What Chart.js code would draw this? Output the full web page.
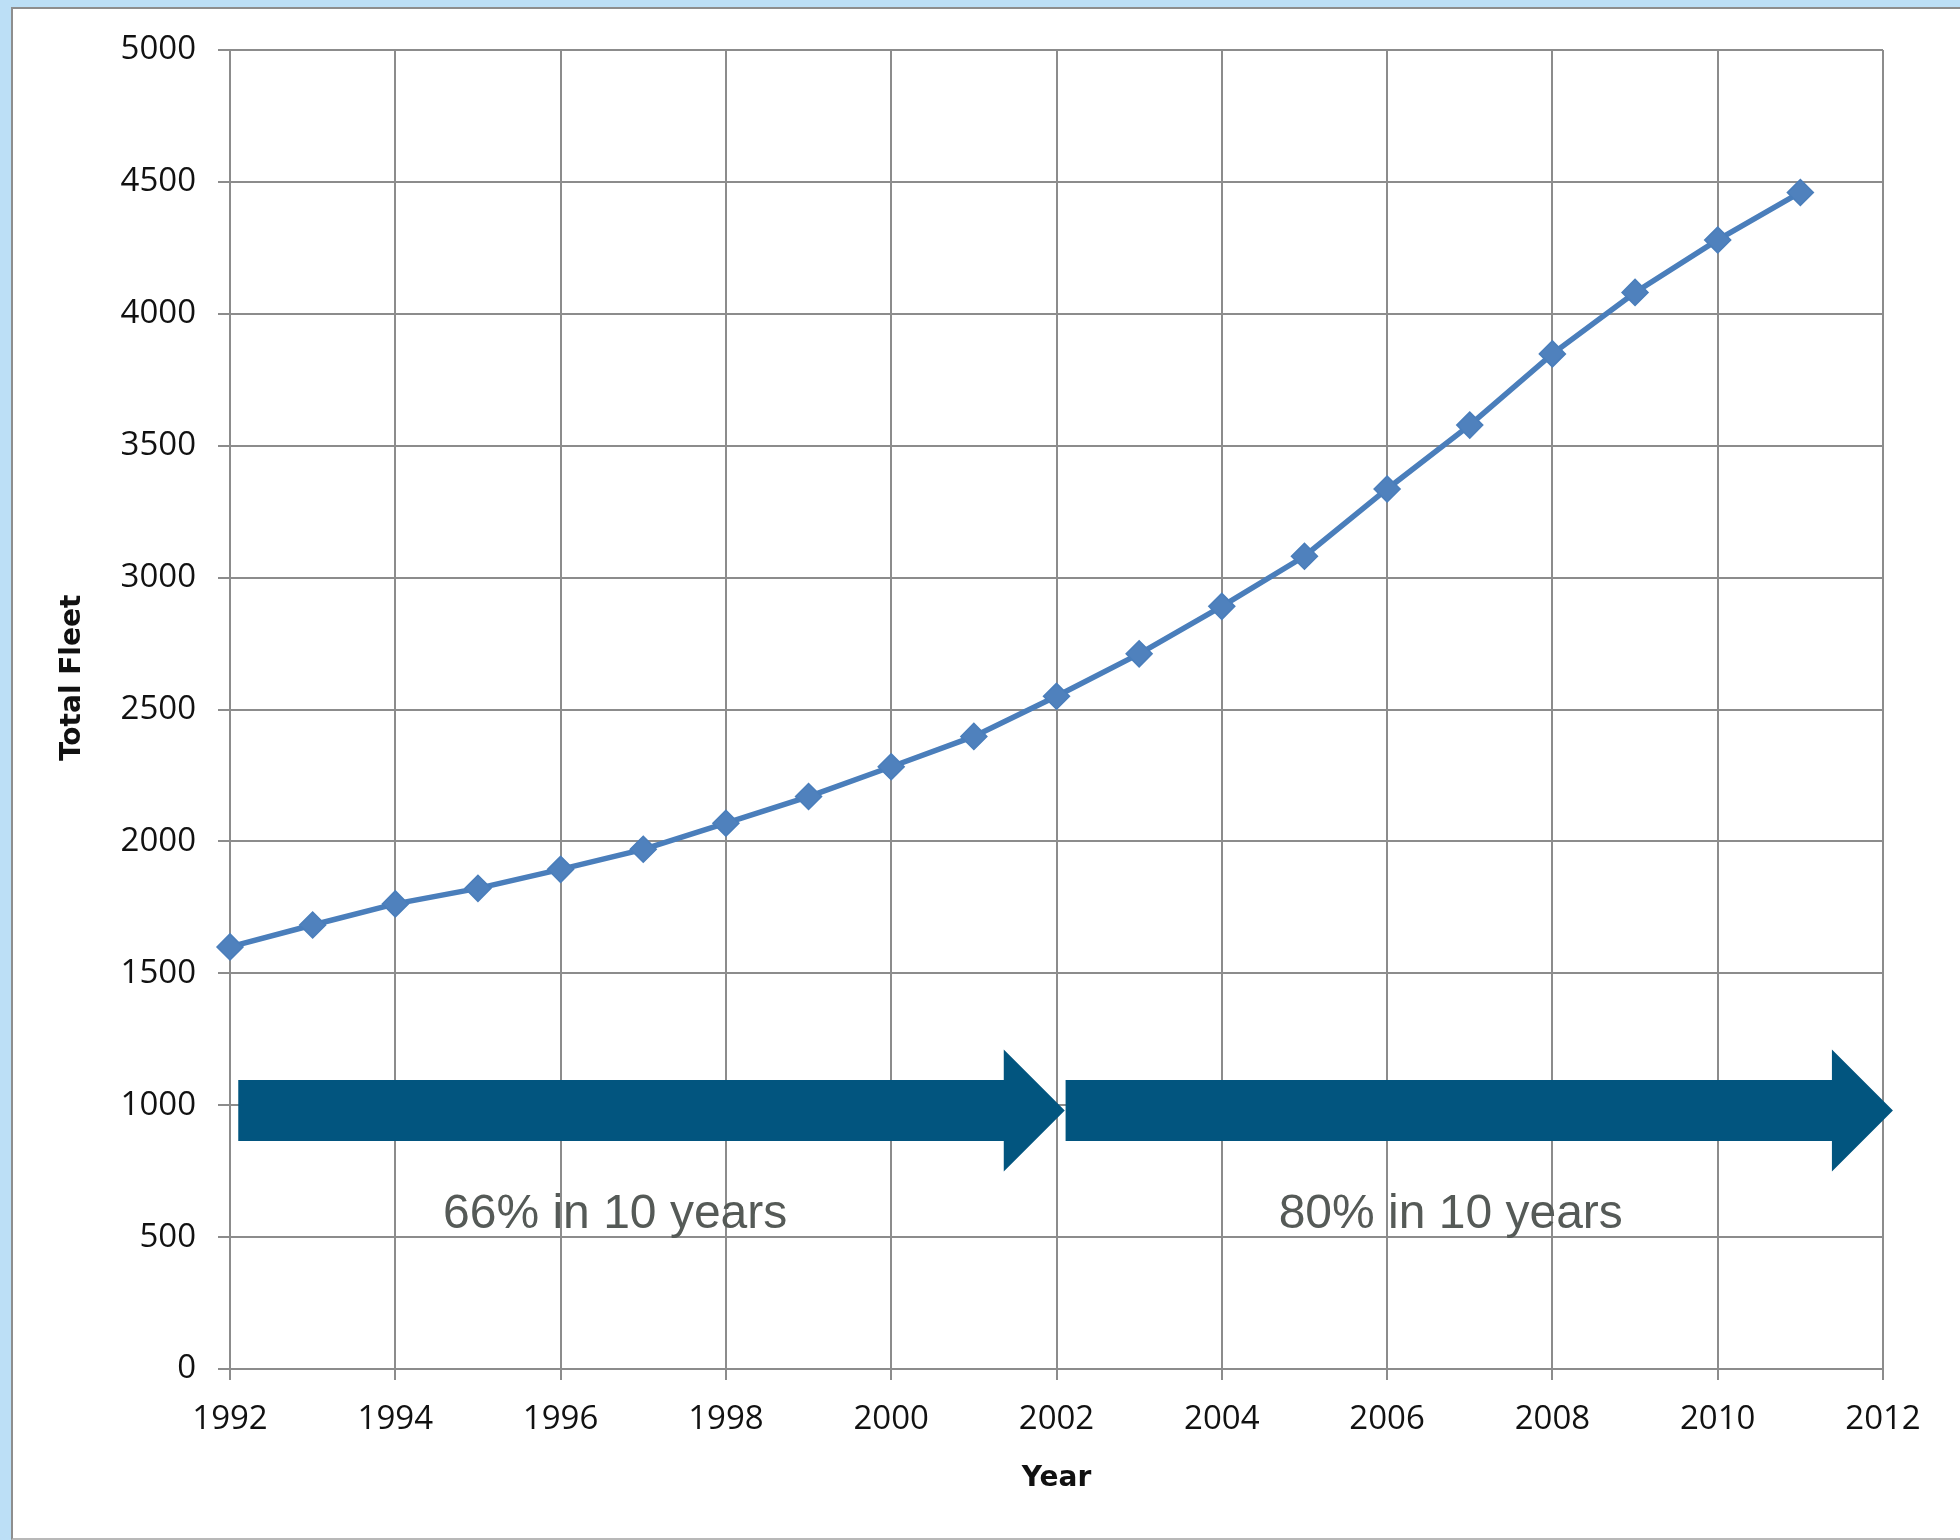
<!DOCTYPE html>
<html>
<head>
<meta charset="utf-8">
<title>Total Fleet by Year</title>
<script src="https://cdn.jsdelivr.net/npm/chart.js@4/dist/chart.umd.min.js"></script>
<style>
  html, body { margin: 0; padding: 0; }
  body { width: 1960px; height: 1540px; background: #bcdff6; position: relative; overflow: hidden; }
  #panel {
    position: absolute; left: 11px; top: 7px; width: 1960px; height: 1529px;
    background: #ffffff; border-left: 2px solid #8e8e8e; border-top: 2px solid #8e8e8e; border-bottom: 2px solid #b8b8b8;
  }
  #chart { position: absolute; left: 0; top: 0; }
</style>
</head>
<body>
<div id="panel"></div>
<canvas id="chart" width="1960" height="1540"></canvas>
<script>
// Fleet size per year
const years = [1992, 1993, 1994, 1995, 1996, 1997, 1998, 1999, 2000, 2001,
               2002, 2003, 2004, 2005, 2006, 2007, 2008, 2009, 2010, 2011];
const totalFleet = [1600, 1683, 1763, 1822, 1894, 1970, 2069, 2170, 2283, 2398,
                    2550, 2711, 2891, 3081, 3336, 3578, 3848, 4081, 4280, 4460];

// Axis ranges and tick steps
const xRange = [1992, 2012];
const xStep = 2;
const yRange = [0, 5000];
const yStep = 500;

// Axis titles
const xTitle = 'Year';
const yTitle = 'Total Fleet';
const yTitleLevel = 2620;

// Growth arrows: start/end year, level on the value axis, caption
const arrowStarts = [1992.1, 2002.11];
const arrowEnds = [2002.1, 2012.12];
const arrowLevel = 980;
const arrowCaptions = ['66% in 10 years', '80% in 10 years'];
const captionYears = [1996.66, 2006.77];
const captionLevel = 585;

const GRID = '#8c8c8c';
const TITLE_FONT = 'bold 28px "DejaVu Sans", sans-serif';

// Vertical title for the value axis, placed at a chosen level
const valueAxisTitle = {
  id: 'valueAxisTitle',
  afterDraw(chart) {
    const {ctx, scales: {y}} = chart;
    ctx.save();
    ctx.translate(73, y.getPixelForValue(yTitleLevel));
    ctx.rotate(-Math.PI / 2);
    ctx.font = TITLE_FONT;
    ctx.fillStyle = '#111111';
    ctx.textAlign = 'center';
    ctx.textBaseline = 'middle';
    ctx.fillText(yTitle, 0, 0);
    ctx.restore();
  }
};

const growthArrows = {
  id: 'growthArrows',
  afterDatasetsDraw(chart) {
    const {ctx, scales: {x, y}} = chart;
    const cy = y.getPixelForValue(arrowLevel);
    const bodyHalf = 30.5, headHalf = 61, headLen = 61;
    ctx.save();
    ctx.fillStyle = '#02557f';
    arrowStarts.forEach((s, i) => {
      const x0 = x.getPixelForValue(s);
      const x1 = x.getPixelForValue(arrowEnds[i]);
      const xb = x1 - headLen;
      ctx.beginPath();
      ctx.moveTo(x0, cy - bodyHalf);
      ctx.lineTo(xb, cy - bodyHalf);
      ctx.lineTo(xb, cy - headHalf);
      ctx.lineTo(x1, cy);
      ctx.lineTo(xb, cy + headHalf);
      ctx.lineTo(xb, cy + bodyHalf);
      ctx.lineTo(x0, cy + bodyHalf);
      ctx.closePath();
      ctx.fill();
    });
    ctx.fillStyle = '#555a57';
    ctx.font = '48px "Liberation Sans", Arial, sans-serif';
    ctx.textAlign = 'center';
    ctx.textBaseline = 'middle';
    arrowCaptions.forEach((t, i) => {
      ctx.fillText(t, x.getPixelForValue(captionYears[i]), y.getPixelForValue(captionLevel));
    });
    ctx.restore();
  }
};

new Chart(document.getElementById('chart'), {
  type: 'line',
  data: {
    datasets: [{
      label: 'Total Fleet',
      data: years.map((yr, i) => ({x: yr, y: totalFleet[i]})),
      borderColor: '#4a7ebb',
      backgroundColor: '#4f81bd',
      borderWidth: 5.5,
      pointStyle: 'rectRot',
      pointRadius: 13,
      pointBorderWidth: 1.5,
      pointBorderColor: '#4a7ebb',
      pointBackgroundColor: '#4f81bd',
      tension: 0,
      fill: false,
      clip: false
    }]
  },
  options: {
    responsive: false,
    animation: false,
    layout: { padding: { left: 0, right: 77, top: 50, bottom: 0 } },
    plugins: { legend: { display: false }, tooltip: { enabled: false } },
    scales: {
      x: {
        type: 'linear',
        min: xRange[0], max: xRange[1],
        afterFit(scale) { scale.height = 171; },
        border: { color: GRID, width: 2 },
        grid: { color: GRID, lineWidth: 2, tickLength: 11, tickColor: GRID },
        ticks: {
          stepSize: xStep,
          autoSkip: false,
          maxRotation: 0,
          padding: 20,
          color: '#111111',
          font: { family: '"Open Sans", sans-serif', size: 33 },
          callback: v => String(v)
        },
        title: {
          display: true,
          text: xTitle,
          color: '#111111',
          font: { family: '"DejaVu Sans", sans-serif', size: 28, weight: 'bold' },
          padding: { top: 0, bottom: 44 }
        }
      },
      y: {
        type: 'linear',
        min: yRange[0], max: yRange[1],
        afterFit(scale) { scale.width = 230; },
        border: { color: GRID, width: 2 },
        grid: { color: GRID, lineWidth: 2, tickLength: 12, tickColor: GRID },
        ticks: {
          stepSize: yStep,
          padding: 22,
          color: '#111111',
          font: { family: '"Open Sans", sans-serif', size: 33 },
          callback: v => String(v)
        },
        title: { display: false }
      }
    }
  },
  plugins: [growthArrows, valueAxisTitle]
});
</script>
</body>
</html>
